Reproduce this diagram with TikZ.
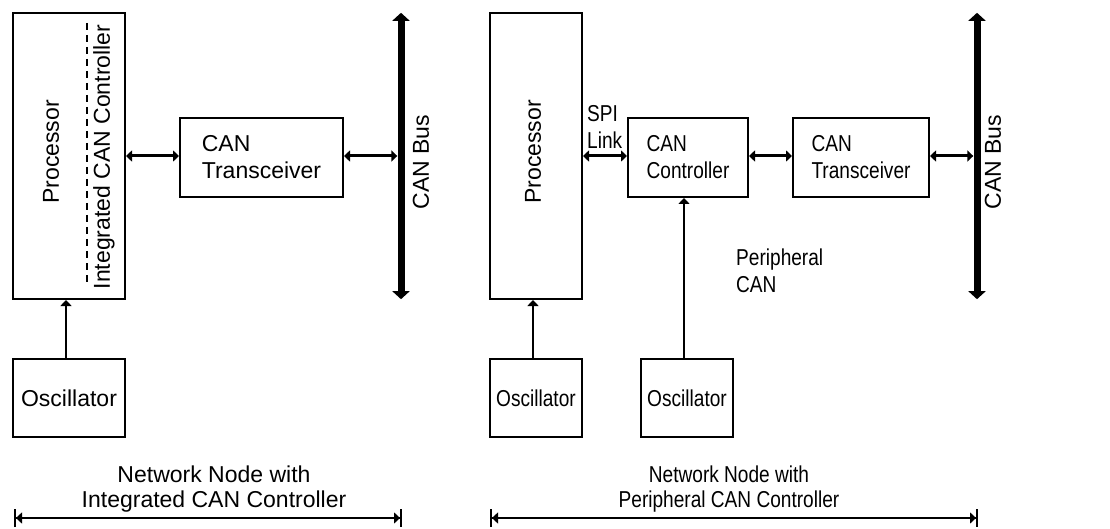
\documentclass[tikz,border=0pt]{standalone}
\usepackage{fontspec}
\setmainfont{Liberation Sans}
\newfontfamily\narrowfont[FakeStretch=0.83]{Liberation Sans}
\usetikzlibrary{arrows.meta}
\begin{document}
\begin{tikzpicture}[x=1pt,y=-1pt,
  every node/.style={font=\fontsize{23}{27}\selectfont, inner sep=0pt},
  narrowtext/.style={font=\narrowfont\fontsize{23}{27}\selectfont},
  blockbox/.style={draw, line width=2pt, align=left},
  vlabel/.style={rotate=90},
  linkarrow/.style={line width=3pt,
    {Triangle[length=6pt,width=11pt]}-{Triangle[length=6pt,width=11pt]}},
  busline/.style={line width=7pt,
    {Triangle[length=8pt,width=17pt]}-{Triangle[length=8pt,width=17pt]}},
  clkarrow/.style={line width=2pt, -{Triangle[length=6pt,width=11pt]}},
  dimline/.style={line width=2pt,
    {Bar[width=18pt,line width=2pt]Triangle[length=6pt,width=11pt]}-{Triangle[length=6pt,width=11pt]Bar[width=18pt,line width=2pt]}},
  busbar/.style={minimum width=7pt, minimum height=286pt}
]
\useasboundingbox (0,0) rectangle (1110,529);

% ---------- node with integrated CAN controller ----------
\node[blockbox, minimum width=112pt, minimum height=286pt] (procL) at (69,156) {};
\node[vlabel] (procLtxt) at (51,152) {Processor};
\node[vlabel] (intctl) at (104,157) {Integrated CAN Controller};
\coordinate (dashTop) at (87,23);
\coordinate (dashBot) at (87,286);
\draw[line width=2pt, dash pattern=on 7pt off 5pt] (dashTop) -- (dashBot);

\node[blockbox, minimum width=163pt, minimum height=79pt] (transL) at (261.5,157.5) {CAN\\Transceiver};
\node[busbar] (busL) at (401,156) {};
\draw[busline] (busL.north) -- (busL.south);
\node[vlabel] (busLtxt) at (421,162) {CAN Bus};

\draw[linkarrow] (procL.east |- 0,156) -- (transL.west |- 0,156);
\draw[linkarrow] (transL.east |- 0,156) -- (busL.west |- 0,156);

\node[blockbox, minimum width=112pt, minimum height=78pt] (oscL) at (69,398) {Oscillator};
\draw[clkarrow] (oscL.north -| 66,0) -- (procL.south -| 66,0);

\node[align=center, font=\fontsize{23}{25}\selectfont] (capL) at (214,489) {Network Node with\\Integrated CAN Controller};
\coordinate (dimLa) at (14,518);
\coordinate (dimLb) at (402,518);
\draw[dimline] (dimLa) -- (dimLb);

% ---------- node with peripheral CAN controller ----------
\node[blockbox, minimum width=92pt, minimum height=286pt] (procR) at (536,156) {};
\node[vlabel] (procRtxt) at (533,152) {Processor};
\node[narrowtext, align=left, anchor=west] (spi) at (587,127) {SPI\\Link};

\node[blockbox, narrowtext, minimum width=120pt, minimum height=79pt] (ctrl) at (688,157.5) {CAN\\Controller};
\node[blockbox, narrowtext, minimum width=136pt, minimum height=79pt] (transR) at (861,157.5) {CAN\\Transceiver};
\node[busbar] (busR) at (977,156) {};
\draw[busline] (busR.north) -- (busR.south);
\node[vlabel] (busRtxt) at (993,162) {CAN Bus};

\draw[linkarrow] (procR.east |- 0,156) -- (ctrl.west |- 0,156);
\draw[linkarrow] (ctrl.east |- 0,156) -- (transR.west |- 0,156);
\draw[linkarrow] (transR.east |- 0,156) -- (busR.west |- 0,156);

\node[narrowtext, align=left, anchor=west] (perican) at (736,271) {Peripheral\\CAN};

\node[blockbox, narrowtext, minimum width=92pt, minimum height=78pt] (oscR1) at (536,398) {Oscillator};
\node[blockbox, narrowtext, minimum width=92pt, minimum height=78pt] (oscR2) at (687,398) {Oscillator};
\draw[clkarrow] (oscR1.north -| 533,0) -- (procR.south -| 533,0);
\draw[clkarrow] (oscR2.north -| 684,0) -- (ctrl.south -| 684,0);

\node[align=center, font=\narrowfont\fontsize{23}{25}\selectfont] (capR) at (729,489) {Network Node with\\Peripheral CAN Controller};
\coordinate (dimRa) at (490,518);
\coordinate (dimRb) at (978,518);
\draw[dimline] (dimRa) -- (dimRb);
\end{tikzpicture}
\end{document}
